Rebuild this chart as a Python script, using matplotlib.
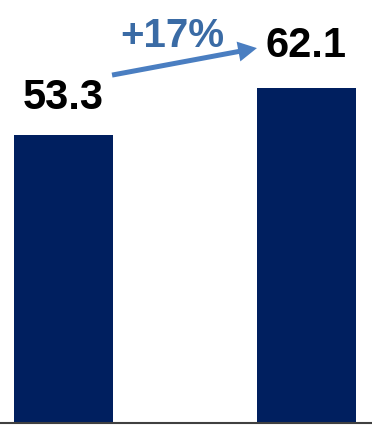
import matplotlib
matplotlib.use("Agg")
import matplotlib.pyplot as plt

plt.rcParams['font.family'] = ['Liberation Sans', 'DejaVu Sans']

periods = [0, 1]
values = [53.3, 62.1]
value_labels = ['53.3', '62.1']
growth_label = '+17%'

navy = '#001F5F'
arrow_blue = '#4A7EC1'
text_blue = '#3A6BA5'

fig = plt.figure(figsize=(3.72, 4.25), dpi=100)
ax = fig.add_axes([0, 2 / 425, 1, 423 / 425])

ax.bar(periods, values, width=0.407, color=navy, zorder=2)

for x, v, lab in zip(periods, values, value_labels):
    ax.text(x, v + 4.8 if v < 60 else v + 5.7, lab, ha='center', va='baseline',
            fontsize=30, fontweight='bold', color='black')

# growth arrow between the two bar labels
ax.annotate('', xy=(0.796, 69.4), xytext=(0.2, 64.4),
            arrowprops=dict(width=3.6, headwidth=14.5, headlength=13.5,
                            shrink=0, color=arrow_blue, lw=0))
ax.text(0.447, 69.6, growth_label, ha='center', va='baseline',
        fontsize=29, fontweight='bold', color=text_blue)

ax.set_xlim(-0.261, 1.2695)
ax.set_ylim(0, 78.3)
for side in ['top', 'right', 'left']:
    ax.spines[side].set_visible(False)
ax.spines['bottom'].set_color('#404040')
ax.spines['bottom'].set_linewidth(1.5)
ax.spines['bottom'].set_zorder(3)
ax.set_xticks([])
ax.set_yticks([])

fig.savefig('out.png', dpi=100)
